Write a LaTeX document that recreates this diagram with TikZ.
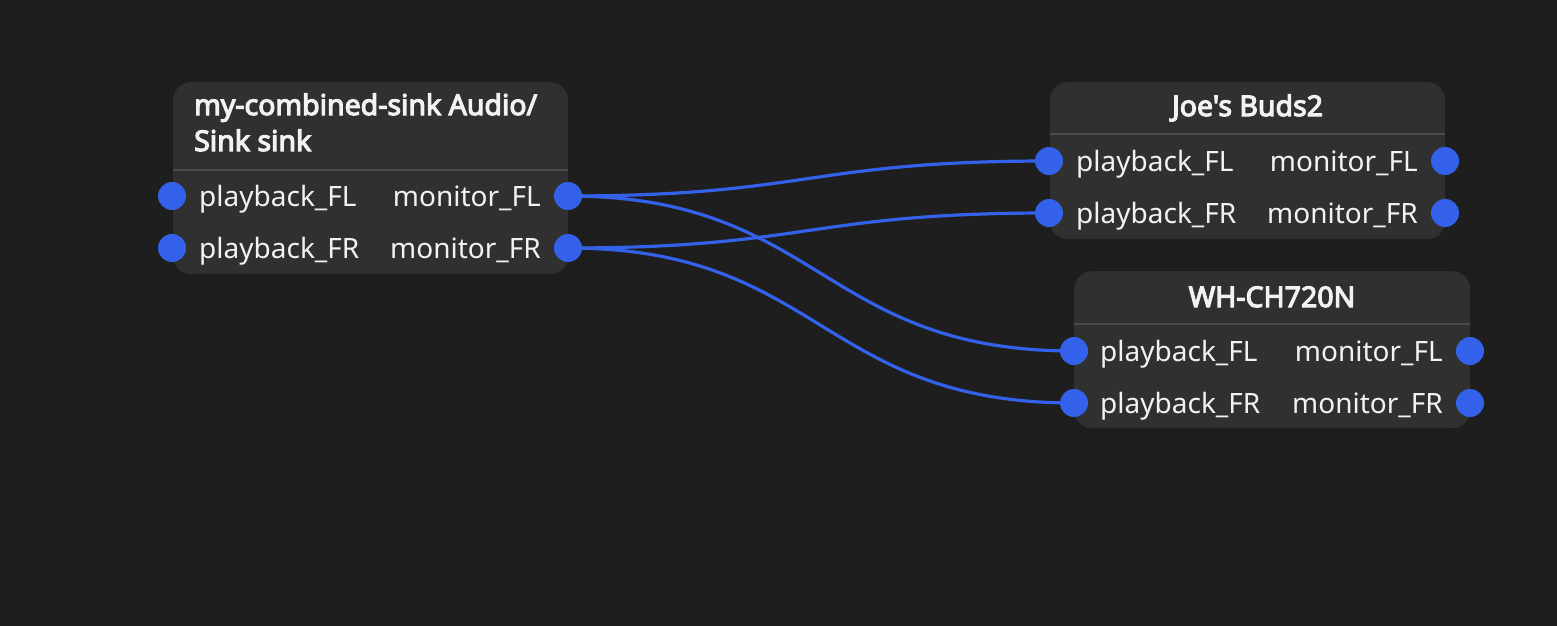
\documentclass[tikz,border=0pt]{standalone}
\usepackage{fontspec}
\newfontfamily\uifont{Noto Sans}
\newfontfamily\ttlfont{Noto Sans}[AutoFakeBold=4]
\definecolor{bg}{HTML}{1E1E1E}
\definecolor{boxfill}{HTML}{303030}
\definecolor{sep}{HTML}{4A4A4A}
\definecolor{wire}{HTML}{3461EA}
\definecolor{txt}{HTML}{F2F2F2}
\tikzset{
  nodebox/.style={draw=none, fill=boxfill, rounded corners=18pt, inner sep=0pt, anchor=north west},
  sepline/.style={draw=sep, line width=2pt},
  port/.style={circle, fill=wire, draw=none, minimum size=28pt, inner sep=0pt},
  lbl/.style={text=txt, font=\uifont\fontsize{28}{32}\selectfont, inner sep=0pt},
  ttl/.style={text=txt, font=\ttlfont\fontsize{28.5}{36}\selectfont\bfseries, inner sep=0pt},
  wirestyle/.style={draw=wire, line width=3.2pt},
}
\begin{document}
\begin{tikzpicture}[x=1pt,y=-1pt]
\fill[bg] (0,0) rectangle (1557,626);
\useasboundingbox (0,0) rectangle (1557,626);

% boxes
\node[nodebox, minimum width=395pt, minimum height=192pt] (A) at (173,82) {};
\node[nodebox, minimum width=395pt, minimum height=157pt] (B) at (1050,82) {};
\node[nodebox, minimum width=396pt, minimum height=157pt] (C) at (1074,271) {};

\draw[sepline] (173,169.5) -- (568,169.5);
\draw[sepline] (1050,134) -- (1445,134);
\draw[sepline] (1074,324) -- (1470,324);

% titles
\node[ttl, anchor=base west] (At1) at (194,115) {my-combined-sink Audio/};
\node[ttl, anchor=base west] (At2) at (194,151) {Sink sink};
\node[ttl, anchor=base] (Bt) at (1247.5,116) {Joe's Buds2};
\node[ttl, anchor=base] (Ct) at (1272,307) {WH-CH720N};

% labels
\node[lbl, anchor=base west] (Al1) at (199,206) {playback\_FL};
\node[lbl, anchor=base west] (Al2) at (199,258) {playback\_FR};
\node[lbl, anchor=base east] (Ar1) at (541,206) {monitor\_FL};
\node[lbl, anchor=base east] (Ar2) at (541,258) {monitor\_FR};

\node[lbl, anchor=base west] (Bl1) at (1076,171) {playback\_FL};
\node[lbl, anchor=base west] (Bl2) at (1076,223) {playback\_FR};
\node[lbl, anchor=base east] (Br1) at (1418,171) {monitor\_FL};
\node[lbl, anchor=base east] (Br2) at (1418,223) {monitor\_FR};

\node[lbl, anchor=base west] (Cl1) at (1100,361) {playback\_FL};
\node[lbl, anchor=base west] (Cl2) at (1100,413) {playback\_FR};
\node[lbl, anchor=base east] (Cr1) at (1443,361) {monitor\_FL};
\node[lbl, anchor=base east] (Cr2) at (1443,413) {monitor\_FR};

% port coordinates
\coordinate (Aout1) at (568,196);
\coordinate (Aout2) at (568,248);
\coordinate (Bin1) at (1049,161);
\coordinate (Bin2) at (1049,213);
\coordinate (Cin1) at (1074,351);
\coordinate (Cin2) at (1074,403);

% wires
\draw[wirestyle] (Aout1) .. controls +(240,0) and +(-240,0) .. (Bin1);
\draw[wirestyle] (Aout1) .. controls +(253,0) and +(-253,0) .. (Cin1);
\draw[wirestyle] (Aout2) .. controls +(240,0) and +(-240,0) .. (Bin2);
\draw[wirestyle] (Aout2) .. controls +(253,0) and +(-253,0) .. (Cin2);

% ports
\node[port] (pAin1) at (172,196) {};
\node[port] (pAin2) at (172,248) {};
\node[port] (pAout1) at (Aout1) {};
\node[port] (pAout2) at (Aout2) {};
\node[port] (pBin1) at (Bin1) {};
\node[port] (pBin2) at (Bin2) {};
\node[port] (pBout1) at (1445,161) {};
\node[port] (pBout2) at (1445,213) {};
\node[port] (pCin1) at (Cin1) {};
\node[port] (pCin2) at (Cin2) {};
\node[port] (pCout1) at (1470,351) {};
\node[port] (pCout2) at (1470,403) {};
\end{tikzpicture}
\end{document}
